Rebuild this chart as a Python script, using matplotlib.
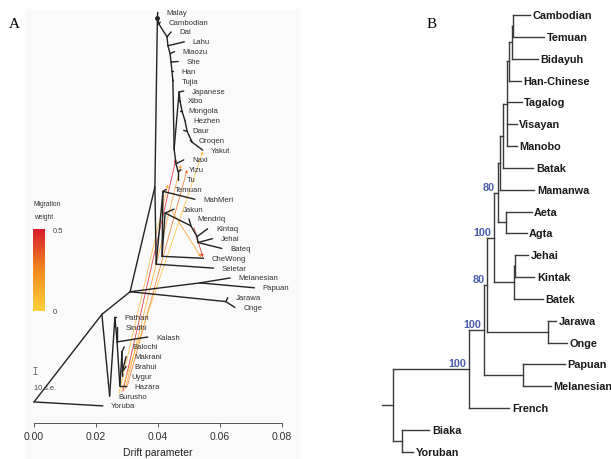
import matplotlib
matplotlib.use('Agg')
import numpy as np
import matplotlib.pyplot as plt
from matplotlib.colors import LinearSegmentedColormap
from matplotlib.patches import Rectangle

plt.rcParams['font.family'] = ['Liberation Sans', 'DejaVu Sans']

# ---------------- Panel A: TreeMix tree ----------------
leaves_a = ['Malay', 'Cambodian', 'Dai', 'Lahu', 'Miaozu', 'She', 'Han', 'Tujia',
            'Japanese', 'Xibo', 'Mongola', 'Hezhen', 'Daur', 'Oroqen', 'Yakut',
            'Naxi', 'Yizu', 'Tu', 'Temuan', 'MahMeri', 'Jakun', 'Mendriq', 'Kintaq',
            'Jehai', 'Bateq', 'CheWong', 'Seletar', 'Melanesian', 'Papuan', 'Jarawa',
            'Onge', 'Pathan', 'Sindhi', 'Kalash', 'Balochi', 'Makrani', 'Brahui',
            'Uygur', 'Hazara', 'Burusho', 'Yoruba']
# drift parameter at each tip
tip_drift_a = [0.0399, 0.0407, 0.0442, 0.0485, 0.0453, 0.0465, 0.0449, 0.0449,
               0.0483, 0.0469, 0.0472, 0.0488, 0.0483, 0.0504, 0.0544,
               0.0483, 0.0474, 0.0465, 0.0426, 0.0519, 0.0452, 0.0500, 0.0560,
               0.0576, 0.0606, 0.0547, 0.0579, 0.0633, 0.0711, 0.0625,
               0.0648, 0.0265, 0.0268, 0.0367, 0.0291, 0.0297, 0.0297,
               0.0286, 0.0297, 0.0246, 0.0222]

# internal nodes: (drift, row)
nodes_a = {
    'R': (0.0, 39.6), 'A': (0.0219, 30.7), 'W1': (0.0244, 39.0),
    'W2': (0.0261, 31.0), 'W3': (0.0268, 33.5), 'W4': (0.0277, 38.0),
    'W5': (0.0284, 34.5), 'W6': (0.0285, 36.5),
    'B': (0.0310, 28.4), 'MP': (0.0535, 27.5), 'JO': (0.0619, 29.4),
    'C': (0.0390, 17.75), 'S': (0.0394, 25.6), 'M': (0.0416, 18.2),
    'CW': (0.0413, 24.8), 'J1': (0.0423, 20.4), 'J2': (0.0506, 21.7),
    'J3': (0.0526, 22.8), 'J4': (0.0529, 23.4),
    'T': (0.0398, 0.6), 'T2': (0.0403, 1.2), 'E1': (0.0429, 2.5),
    'E2': (0.0432, 3.4), 'E3': (0.0439, 4.2), 'E4': (0.0442, 5.05),
    'E5': (0.0445, 6.0), 'E6': (0.0448, 6.9), 'E7': (0.0452, 13.9),
    'JP1': (0.0468, 8.1), 'JP2': (0.0471, 9.0), 'JP3': (0.0477, 10.0),
    'JP4': (0.0487, 11.0), 'JP5': (0.0494, 12.1), 'JP6': (0.0510, 13.2),
    'NX': (0.0458, 15.4), 'YT': (0.0465, 16.2),
}

# child -> parent
parent_a = {
    'Yoruba': 'R', 'A': 'R', 'W1': 'A', 'Burusho': 'W1', 'W2': 'W1',
    'Pathan': 'W2', 'W3': 'W2', 'Sindhi': 'W3', 'Kalash': 'W3', 'W4': 'W3',
    'Hazara': 'W4', 'W5': 'W4', 'Balochi': 'W5', 'W6': 'W5',
    'Makrani': 'W6', 'Brahui': 'W6', 'Uygur': 'W6',
    'B': 'A', 'MP': 'B', 'Melanesian': 'MP', 'Papuan': 'MP',
    'JO': 'B', 'Jarawa': 'JO', 'Onge': 'JO',
    'C': 'B', 'S': 'C', 'Seletar': 'S', 'M': 'S', 'Temuan': 'M', 'MahMeri': 'M',
    'CW': 'M', 'CheWong': 'CW', 'J1': 'CW', 'Jakun': 'J1', 'J2': 'J1',
    'Mendriq': 'J2', 'J3': 'J2', 'Kintaq': 'J3', 'J4': 'J3',
    'Jehai': 'J4', 'Bateq': 'J4',
    'T': 'C', 'Malay': 'T', 'T2': 'T', 'Cambodian': 'T2', 'E1': 'T2',
    'Dai': 'E1', 'E2': 'E1', 'Lahu': 'E2', 'E3': 'E2', 'Miaozu': 'E3',
    'E4': 'E3', 'She': 'E4', 'E5': 'E4', 'Han': 'E5', 'E6': 'E5',
    'Tujia': 'E6', 'E7': 'E6', 'JP1': 'E7', 'Japanese': 'JP1', 'JP2': 'JP1',
    'Xibo': 'JP2', 'JP3': 'JP2', 'Mongola': 'JP3', 'JP4': 'JP3',
    'Hezhen': 'JP4', 'JP5': 'JP4', 'Daur': 'JP5', 'JP6': 'JP5',
    'Oroqen': 'JP6', 'Yakut': 'JP6', 'NX': 'E7', 'Naxi': 'NX', 'YT': 'NX',
    'Yizu': 'YT', 'Tu': 'YT',
}

# migration edges: source (drift, row) -> target (drift, row), weight
mig_src_drift = [0.0287, 0.0294, 0.0300, 0.0281, 0.0274, 0.0445, 0.0516]
mig_src_row = [38.5, 38.3, 38.1, 38.6, 38.7, 20.2, 21.9]
mig_dst_drift = [0.0458, 0.0474, 0.0494, 0.0545, 0.0432, 0.0539, 0.0545]
mig_dst_row = [14.9, 15.5, 16.0, 14.1, 17.5, 24.9, 24.9]
mig_weight = [0.50, 0.15, 0.30, 0.05, 0.10, 0.20, 0.45]

# ---------------- Panel B: cladogram ----------------
leaves_b = ['Cambodian', 'Temuan', 'Bidayuh', 'Han-Chinese', 'Tagalog', 'Visayan',
            'Manobo', 'Batak', 'Mamanwa', 'Aeta', 'Agta', 'Jehai', 'Kintak', 'Batek',
            'Jarawa', 'Onge', 'Papuan', 'Melanesian', 'French', 'Biaka', 'Yoruban']
tip_depth_b = [148.3, 162.3, 156.3, 139.0, 140.0, 135.0, 135.0, 151.6, 152.6, 150.0,
               145.0, 146.6, 152.6, 161.0, 174.3, 185.0, 183.3, 169.3, 127.6, 47.6, 31.6]
nodes_b = {
    'root': (11.0, ['N100a', 'BY']),
    'BY': (20.0, ['Biaka', 'Yoruban']),
    'N100a': (87.6, ['N100b', 'French']),
    'N100b': (102.6, ['N80b', 'PM']),
    'N80b': (105.5, ['N100c', 'JO']),
    'N100c': (112.3, ['N80a', 'JKB']),
    'N80a': (116.0, ['Mm', 'AA']),
    'Mm': (118.3, ['Bt', 'Mamanwa']),
    'Bt': (121.0, ['TVM', 'Batak']),
    'TVM': (125.0, ['H', 'Tagalog', 'Visayan', 'Manobo']),
    'H': (127.0, ['CTB', 'Han-Chinese']),
    'CTB': (130.0, ['CT', 'Bidayuh']),
    'CT': (131.0, ['Cambodian', 'Temuan']),
    'AA': (124.0, ['Aeta', 'Agta']),
    'JKB': (132.3, ['JK', 'Batek']),
    'JK': (133.0, ['Jehai', 'Kintak']),
    'JO': (166.6, ['Jarawa', 'Onge']),
    'PM': (141.6, ['Papuan', 'Melanesian']),
}
support_b = {'N100a': '100', 'N100b': '100', 'N80b': '80', 'N100c': '100', 'N80a': '80'}

W, H = 611, 460
fig = plt.figure(figsize=(W / 100, H / 100), dpi=100)
fig.patches.append(Rectangle((25 / W, 0), 275 / W, 450 / H, transform=fig.transFigure,
                             facecolor='#fafafa', edgecolor='none', zorder=-10))

# ---- panel A axes ----
axA = fig.add_axes([34 / W, 36 / H, 248 / W, 410.7 / H])
axA.patch.set_alpha(0)
axA.set_xlim(0, 0.08)
axA.set_ylim(41.74, 0)

pos_a = dict(nodes_a)
for name, d, r in zip(leaves_a, tip_drift_a, range(len(leaves_a))):
    pos_a[name] = (d, r)

line_col = '#222222'
for child, par in parent_a.items():
    x0, y0 = pos_a[par]
    x1, y1 = pos_a[child]
    axA.plot([x0, x1], [y0, y1], color=line_col, lw=1.0, solid_capstyle='round',
             clip_on=False, zorder=3)
axA.plot(*nodes_a['T'], 'o', color=line_col, ms=2.5, clip_on=False, zorder=4)

cmap = LinearSegmentedColormap.from_list('mig', ['#fcd03a', '#f28a1e', '#d81b2c'])
for sx, sy, dx, dy, w in zip(mig_src_drift, mig_src_row, mig_dst_drift, mig_dst_row, mig_weight):
    axA.annotate('', xy=(dx, dy), xytext=(sx, sy),
                 arrowprops=dict(arrowstyle='-|>', color=cmap(w / 0.5), lw=0.6,
                                 mutation_scale=4, shrinkA=0, shrinkB=0, alpha=0.85),
                 zorder=2)

for name in leaves_a:
    axA.annotate(name, pos_a[name], xytext=(6, 0), textcoords='offset points',
                 ha='left', va='center', fontsize=5.6, color='#333333')

# scale bar
axA.errorbar([0.0003], [36.4], yerr=[[0.4], [0.4]], color='#666666', lw=0.6,
             capsize=1.2, capthick=0.6, clip_on=False)
axA.text(0.0, 38.1, '10 s.e.', fontsize=5.3, color='#444444', va='center', ha='left')

for s in ['left', 'top', 'right']:
    axA.spines[s].set_visible(False)
axA.spines['bottom'].set_color('#555555')
axA.spines['bottom'].set_linewidth(0.7)
axA.set_yticks([])
ticks = [0.0, 0.02, 0.04, 0.06, 0.08]
axA.set_xticks(ticks)
axA.set_xticklabels(['%.2f' % t for t in ticks])
axA.tick_params(axis='x', length=3, width=0.7, color='#555555', labelsize=7.5,
                labelcolor='#333333', pad=3)
axA.set_xlabel('Drift parameter', fontsize=7.5, color='#222222', labelpad=4)

# colour bar
cax = fig.add_axes([33 / W, (H - 312) / H, 12 / W, 82 / H])
grad = np.linspace(0, 0.5, 100).reshape(-1, 1)
cax.imshow(grad, cmap=cmap, aspect='auto', origin='lower', extent=[0, 1, 0, 0.5])
cax.axis('off')
fig.text(34 / W, 1 - 205 / H, 'Migration', fontsize=4.8, color='#333333', va='center')
fig.text(34 / W, 1 - 218 / H, 'weight', fontsize=4.8, color='#333333', va='center')
fig.text(53 / W, 1 - 232 / H, '0.5', fontsize=5.5, color='#444444', va='center')
fig.text(53 / W, 1 - 313 / H, '0', fontsize=5.5, color='#444444', va='center')

fig.text(14 / W, 1 - 25 / H, 'A', fontsize=11, family='Liberation Serif',
         ha='center', va='center')
fig.text(432 / W, 1 - 25 / H, 'B', fontsize=11, family='Liberation Serif',
         ha='center', va='center')

# ---- panel B axes ----
axB = fig.add_axes([381.7 / W, 7.3 / H, 200 / W, 436.7 / H])
axB.set_xlim(0, 200)
axB.set_ylim(20, 0)
axB.axis('off')

pos_b = {name: (d, i) for i, (name, d) in enumerate(zip(leaves_b, tip_depth_b))}


def place(name):
    if name in pos_b:
        return pos_b[name]
    depth, kids = nodes_b[name]
    ys = [place(k)[1] for k in kids]
    pos_b[name] = (depth, (ys[0] + ys[-1]) / 2)
    return pos_b[name]


place('root')
col_b = '#3a3a3a'
for name, (depth, kids) in nodes_b.items():
    x, y = pos_b[name]
    ys = [pos_b[k][1] for k in kids]
    axB.plot([x, x], [min(ys), max(ys)], color=col_b, lw=1.0, clip_on=False)
    for k in kids:
        axB.plot([x, pos_b[k][0]], [pos_b[k][1], pos_b[k][1]], color=col_b, lw=1.0,
                 clip_on=False)
rx, ry = pos_b['root']
axB.plot([0, rx], [ry, ry], color=col_b, lw=1.0, clip_on=False)

for name in leaves_b:
    axB.annotate(name, pos_b[name], xytext=(1.8, 0), textcoords='offset points',
                 ha='left', va='center', fontsize=7.8, fontweight='bold', color='#1a1a1a',
                 annotation_clip=False)
for name, lab in support_b.items():
    axB.annotate(lab, pos_b[name], xytext=(-2, 4.3), textcoords='offset points',
                 ha='right', va='center', fontsize=7.8, fontweight='bold',
                 color='#4a5cab', annotation_clip=False)

fig.savefig('out.png', dpi=100)
